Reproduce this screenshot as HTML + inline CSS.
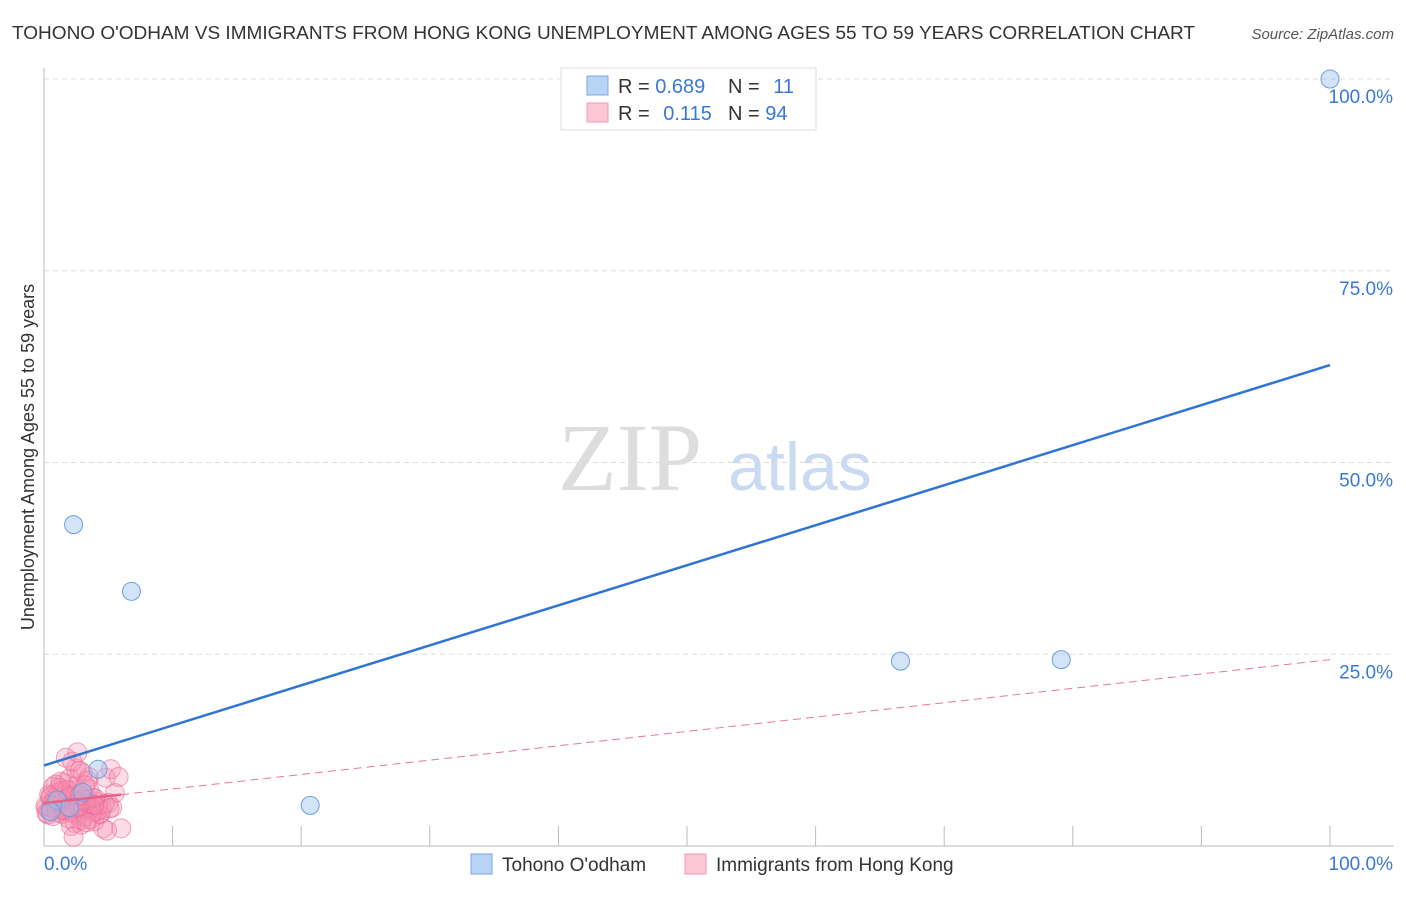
<!DOCTYPE html>
<html><head><meta charset="utf-8"><style>
body{margin:0;background:#fff;font-family:"Liberation Sans",sans-serif}
</style></head><body>
<svg width="1406" height="892" xmlns="http://www.w3.org/2000/svg" id="chart">
<text x="12" y="39" font-size="18.5" fill="#333" textLength="1183" lengthAdjust="spacingAndGlyphs">TOHONO O'ODHAM VS IMMIGRANTS FROM HONG KONG UNEMPLOYMENT AMONG AGES 55 TO 59 YEARS CORRELATION CHART</text>
<text x="1394" y="39" font-size="15" fill="#555" font-style="italic" text-anchor="end">Source: ZipAtlas.com</text>
<text x="630" y="490" font-size="96" fill="#ddd" font-family="Liberation Serif" text-anchor="middle">ZIP</text>
<text x="800" y="490" font-size="68" fill="#c9daf2" text-anchor="middle">atlas</text>
<g id="grid"></g><g id="axes"></g><g id="marks"></g>
<text transform="translate(34,457) rotate(-90)" font-size="18" fill="#333" text-anchor="middle">Unemployment Among Ages 55 to 59 years</text>
<g>
<rect x="561" y="68" width="255" height="62" fill="#fff" stroke="#ddd"/>
<rect x="587" y="76" width="21" height="19" fill="#b9d3f5" stroke="#7aa8e6"/>
<rect x="587" y="103" width="21" height="19" fill="#fcc8d8" stroke="#f09ab6"/>
<text x="618" y="93" font-size="20" fill="#333">R = <tspan fill="#3a78d8">0.689</tspan></text>
<text x="728" y="93" font-size="20" fill="#333">N = <tspan fill="#3a78d8" dx="8">11</tspan></text>
<text x="618" y="120" font-size="20" fill="#333">R = <tspan fill="#3a78d8" dx="8">0.115</tspan></text>
<text x="728" y="120" font-size="20" fill="#333">N = <tspan fill="#3a78d8">94</tspan></text>
</g>
<g>
<rect x="471" y="854" width="21" height="20" fill="#b9d3f5" stroke="#7aa8e6"/>
<text x="502" y="871" font-size="19" fill="#333">Tohono O'odham</text>
<rect x="685" y="854" width="21" height="20" fill="#fcc8d8" stroke="#f09ab6"/>
<text x="716" y="871" font-size="19" fill="#333">Immigrants from Hong Kong</text>
</g>
</svg>
<script>
const yTicks=[25,50,75,100];
const yTickLabels=["25.0%","50.0%","75.0%","100.0%"];
const blueX=[2.3,6.8,66.6,79.1,20.7,100,4.2,1.0,2.0,0.5,3.0];
const blueY=[41.9,33.2,24.1,24.3,5.3,100,10.0,6.0,5.0,4.5,7.0];
const pinkX=[0.2,0.4,0.6,0.8,1.0,1.2,1.4,1.6,1.8,2.0,2.2,2.4,2.6,2.8,3.0,3.2,3.4,3.6,3.8,4.0,0.3,0.5,0.7,0.9,1.1,1.3,1.5,1.7,1.9,2.1,2.3,2.5,2.7,2.9,3.1,3.3,3.5,3.7,3.9,4.1,0.1,0.6,1.0,1.5,2.0,2.5,3.0,3.5,4.0,4.5,5.0,5.5,4.8,5.2,4.3,1.7,2.2,2.8,3.4,1.2,0.4,0.9,1.4,1.9,2.4,2.9,3.6,4.4,5.3,4.6,6.0,4.9,5.8,2.6,3.1,1.8,0.8,2.1,3.3,4.2,0.2,0.5,1.1,1.6,2.7,3.8,4.7,5.1,0.7,1.3,2.3,3.2,3.9,2.8];
const pinkY=[5.0,4.6,5.5,6.2,4.8,5.9,4.2,6.5,5.1,4.4,7.2,5.6,4.0,6.8,5.3,3.8,6.0,5.0,4.5,5.8,4.1,6.3,3.9,5.4,7.0,4.7,8.2,5.2,3.6,6.6,4.3,7.8,5.7,3.4,6.1,4.9,9.0,5.5,3.2,4.6,5.2,5.0,4.4,6.9,8.8,10.1,9.5,7.4,6.2,4.8,5.6,6.9,8.9,10.0,4.1,11.5,11.0,9.8,8.5,7.6,6.7,8.0,7.2,6.4,3.0,2.8,3.5,4.2,5.0,2.3,2.3,2.0,9.0,12.2,6.0,7.3,5.8,2.6,3.1,5.3,4.3,6.5,5.9,4.7,5.1,6.3,5.5,4.9,7.7,8.4,1.2,7.9,5.4,6.6];
const blueTrend=[[0,10.5],[100,62.7]];
const pinkTrend=[[0,5.6],[6,6.7],[100,24.3]];
const sx=v=>44+v*12.86, sy=v=>846-v*7.67;
const NS="http://www.w3.org/2000/svg";
function mk(t,a,p){const e=document.createElementNS(NS,t);for(const k in a)e.setAttribute(k,a[k]);document.getElementById(p).appendChild(e);return e;}
yTicks.forEach((t,i)=>{
 const l=mk('line',{x1:44,x2:1394,y1:sy(t),y2:sy(t),stroke:'#ddd','stroke-dasharray':'5,4'},'grid');
 
 
 const tx=mk('text',{x:1393,y:sy(t)+24,'font-size':19,fill:'#3a78d8','text-anchor':'end'},'axes');
 tx.textContent=yTickLabels[i];
 
 
});
mk('line',{x1:44,x2:44,y1:68,y2:846,stroke:'#bbb'},'axes');
mk('line',{x1:44,x2:1394,y1:846,y2:846,stroke:'#bbb'},'axes');
for(let i=0;i<=10;i++){const tk=mk('line',{x1:sx(i*10),x2:sx(i*10),y1:826,y2:846,stroke:'#bbb'},'axes');
 
 }
const x0=mk('text',{x:44,y:870,'font-size':19,fill:'#3a78d8'},'axes');x0.textContent='0.0%';


const x1=mk('text',{x:1393,y:870,'font-size':19,fill:'#3a78d8','text-anchor':'end'},'axes');x1.textContent='100.0%';


pinkX.forEach((x,i)=>{const c=mk('circle',{cx:sx(x),cy:sy(pinkY[i]),r:9.5,fill:'rgba(244,143,177,0.3)',stroke:'rgba(236,100,145,0.6)','stroke-width':1},'marks');
 
 });
blueX.forEach((x,i)=>{const c=mk('circle',{cx:sx(x),cy:sy(blueY[i]),r:9,fill:'rgba(160,195,240,0.45)',stroke:'#6a9fe0','stroke-width':1},'marks');
 
 });
const bl=mk('line',{x1:sx(blueTrend[0][0]),y1:sy(blueTrend[0][1]),x2:sx(blueTrend[1][0]),y2:sy(blueTrend[1][1]),stroke:'#2f74d6','stroke-width':2.5},'marks');


const ps=mk('line',{x1:sx(pinkTrend[0][0]),y1:sy(pinkTrend[0][1]),x2:sx(pinkTrend[1][0]),y2:sy(pinkTrend[1][1]),stroke:'#e8608a','stroke-width':2.5},'marks');


const pd=mk('line',{x1:sx(pinkTrend[1][0]),y1:sy(pinkTrend[1][1]),x2:sx(pinkTrend[2][0]),y2:sy(pinkTrend[2][1]),stroke:'#e8789c','stroke-width':1,'stroke-dasharray':'8,5'},'marks');


</script>
</body></html>
